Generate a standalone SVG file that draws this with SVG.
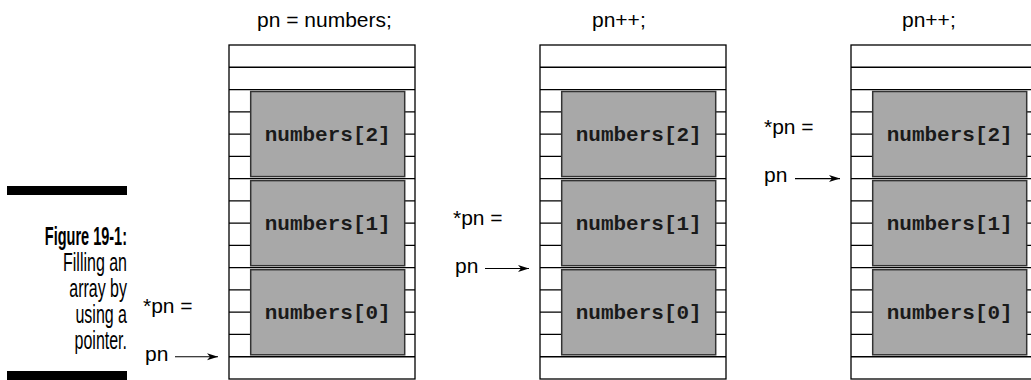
<svg xmlns="http://www.w3.org/2000/svg" width="1031" height="380" viewBox="0 0 1031 380">
  <style>
    .grid { stroke: #000; stroke-width: 1.3; fill: none; }
    .cell { fill: #a8a8a8; stroke: #333; stroke-width: 1.5; }
    .mono { font-family: "Liberation Mono", "Courier New", monospace; font-weight: bold; font-size: 21px; fill: #1a1a1a; text-anchor: middle; }
    .lbl { font-family: "Liberation Sans", Arial, sans-serif; font-size: 21px; fill: #000; }
    .cap { font-family: "Liberation Sans", Arial, sans-serif; font-size: 25px; fill: #000; text-anchor: end; }
    .conn { stroke: #000; stroke-width: 1.2; fill: none; marker-end: url(#ah); }
  </style>
  <defs>
    <marker id="ah" markerUnits="userSpaceOnUse" markerWidth="12" markerHeight="8" refX="11" refY="4" orient="auto">
      <path d="M0,0.5 L11,4 L0,7.5 L3,4 Z" fill="#000"/>
    </marker>
    <g id="rows">
      <rect class="grid" x="0" y="45" width="186" height="334"/>
      <path class="grid" d="M0,67.27H186M0,89.53H186M0,111.8H186M0,134.07H186M0,156.33H186M0,178.6H186M0,200.87H186M0,223.13H186M0,245.4H186M0,267.67H186M0,289.93H186M0,312.2H186M0,334.47H186M0,356.73H186"/>
    </g>
  </defs>

  <!-- Figure caption -->
  <g id="caption">
    <rect x="7" y="186" width="120" height="9" fill="#000"/>
    <text class="cap" font-weight="bold" transform="translate(127,245) scale(0.58,1)">Figure 19-1:</text>
    <text class="cap" transform="translate(127,271) scale(0.64,1)">Filling an</text>
    <text class="cap" transform="translate(127,297) scale(0.64,1)">array by</text>
    <text class="cap" transform="translate(127,323) scale(0.64,1)">using a</text>
    <text class="cap" transform="translate(127,349) scale(0.64,1)">pointer.</text>
    <rect x="7" y="371" width="120" height="9" fill="#000"/>
  </g>

  <!-- Column 1 -->
  <g id="col1">
    <text class="lbl" x="257" y="27">pn = numbers;</text>
    <g transform="translate(229,0)">
      <use href="#rows"/>
      <rect class="cell" x="21.7" y="91.5" width="154" height="85.1"/>
      <rect class="cell" x="21.7" y="180.6" width="154" height="85.1"/>
      <rect class="cell" x="21.7" y="269.7" width="154" height="85.1"/>
      <text class="mono" x="98.7" y="140.5">numbers[2]</text>
      <text class="mono" x="98.7" y="229.6">numbers[1]</text>
      <text class="mono" x="98.7" y="318.7">numbers[0]</text>
    </g>
    <text class="lbl" x="143" y="313">*pn =</text>
    <text class="lbl" x="145" y="361">pn</text>
  </g>

  <!-- Column 2 -->
  <g id="col2">
    <text class="lbl" x="592" y="27">pn++;</text>
    <g transform="translate(540,0)">
      <use href="#rows"/>
      <rect class="cell" x="21.7" y="91.5" width="154" height="85.1"/>
      <rect class="cell" x="21.7" y="180.6" width="154" height="85.1"/>
      <rect class="cell" x="21.7" y="269.7" width="154" height="85.1"/>
      <text class="mono" x="98.7" y="140.5">numbers[2]</text>
      <text class="mono" x="98.7" y="229.6">numbers[1]</text>
      <text class="mono" x="98.7" y="318.7">numbers[0]</text>
    </g>
    <text class="lbl" x="453" y="225">*pn =</text>
    <text class="lbl" x="455" y="273">pn</text>
  </g>

  <!-- Column 3 -->
  <g id="col3">
    <text class="lbl" x="902" y="27">pn++;</text>
    <g transform="translate(851,0)">
      <use href="#rows"/>
      <rect class="cell" x="21.7" y="91.5" width="154" height="85.1"/>
      <rect class="cell" x="21.7" y="180.6" width="154" height="85.1"/>
      <rect class="cell" x="21.7" y="269.7" width="154" height="85.1"/>
      <text class="mono" x="98.7" y="140.5">numbers[2]</text>
      <text class="mono" x="98.7" y="229.6">numbers[1]</text>
      <text class="mono" x="98.7" y="318.7">numbers[0]</text>
    </g>
    <text class="lbl" x="764" y="134">*pn =</text>
    <text class="lbl" x="764" y="182">pn</text>
  </g>

  <!-- Connectors -->
  <g id="connectors">
    <line class="conn" x1="175" y1="356.73" x2="218" y2="356.73"/>
    <line class="conn" x1="485" y1="268.5" x2="529" y2="268.5"/>
    <line class="conn" x1="795" y1="178.6" x2="840" y2="178.6"/>
  </g>
</svg>
